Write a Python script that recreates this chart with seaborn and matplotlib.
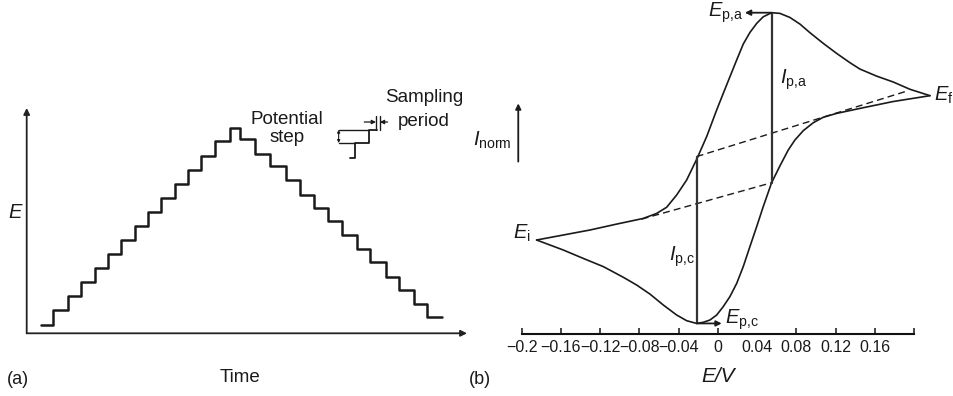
import numpy as np
import pandas as pd
import matplotlib
matplotlib.use("Agg")
import matplotlib.pyplot as plt
import seaborn as sns

# ---------------- data ----------------
# Panel (a): staircase potential waveform (time in step units, E in step units)
step_time = [1.1, 2.0, 3.1, 4.1, 5.1, 6.1, 7.1, 8.1, 9.1, 10.1, 11.1, 12.1, 13.1, 14.1, 15.25,
             16.0, 17.1, 18.25, 19.4, 20.5, 21.5, 22.6, 23.6, 24.75, 25.75, 26.9, 27.9, 29.0, 30.0, 31.1]
step_E = [0.6, 1.67, 2.67, 3.64, 4.64, 5.67, 6.67, 7.67, 8.64, 9.64, 10.67, 11.67, 12.62, 13.69, 14.64,
          13.86, 12.81, 11.9, 10.95, 9.88, 8.93, 7.98, 6.98, 6.0, 5.05, 4.05, 3.1, 2.1, 1.14, 1.14]

# Inset schematic (one potential step with sampling period)
inset_step_t = [24.25, 24.63, 24.63, 25.63, 25.63, 26.26]
inset_step_E = [12.5, 12.5, 13.57, 13.57, 14.52, 14.52]

# Panel (b): cyclic voltammogram, forward (anodic) and reverse branches
fwd_E = [-0.1848, -0.1576, -0.1304, -0.1032, -0.0760, -0.0624, -0.0522, -0.0420, -0.0318, -0.0216,
         -0.0114, -0.0012, 0.0055, 0.0123, 0.0192, 0.0259, 0.0327, 0.0396, 0.0463, 0.0548,
         0.0633, 0.0735, 0.0837, 0.0939, 0.1075, 0.1211, 0.1347, 0.1449, 0.1619, 0.1789,
         0.1959, 0.2163]
fwd_I = [0.000, 0.022, 0.044, 0.070, 0.095, 0.117, 0.144, 0.198, 0.264, 0.355,
         0.455, 0.572, 0.645, 0.718, 0.792, 0.862, 0.913, 0.953, 0.982, 1.000,
         0.997, 0.979, 0.950, 0.912, 0.865, 0.821, 0.780, 0.752, 0.721, 0.695,
         0.663, 0.635]
rev_E = [0.2163, 0.1785, 0.1449, 0.1211, 0.1075, 0.0973, 0.0871, 0.0786, 0.0718, 0.0633,
         0.0548, 0.0463, 0.0396, 0.0327, 0.0259, 0.0192, 0.0123, 0.0055, -0.0012, -0.0081,
         -0.0149, -0.0216, -0.0318, -0.0420, -0.0556, -0.0692, -0.0828, -0.0964, -0.1168,
         -0.1372, -0.1576, -0.1712, -0.1848]
rev_I = [0.635, 0.609, 0.579, 0.557, 0.540, 0.516, 0.481, 0.440, 0.396, 0.326,
         0.252, 0.147, 0.059, -0.029, -0.117, -0.191, -0.249, -0.293, -0.330, -0.352,
         -0.362, -0.367, -0.355, -0.330, -0.286, -0.238, -0.198, -0.164, -0.117,
         -0.081, -0.044, -0.022, 0.000]

# baselines (dashed) and peak currents
base_c_E = [-0.0216, 0.1941]
base_c_I = [0.367, 0.657]
base_a_E = [-0.0777, 0.0548]
base_a_I = [0.092, 0.252]
Epa, Ipa, Ipa_base = 0.0548, 1.000, 0.252
Epc, Ipc, Ipc_base = -0.0216, -0.367, 0.367

xticks = [-0.2, -0.16, -0.12, -0.08, -0.04, 0.0, 0.04, 0.08, 0.12, 0.16, 0.2]
xtick_labels = ["\u22120.2", "\u22120.16", "\u22120.12", "\u22120.08", "\u22120.04", "0",
                "0.04", "0.08", "0.12", "0.16", ""]

# ---------------- style ----------------
sns.set_style("ticks")
plt.rcParams["font.family"] = ["Liberation Sans", "DejaVu Sans"]
plt.rcParams["mathtext.fontset"] = "custom"
plt.rcParams["mathtext.rm"] = "Liberation Sans"
plt.rcParams["mathtext.it"] = "Liberation Sans:italic"
plt.rcParams["mathtext.bf"] = "Liberation Sans:bold"

W, H = 954, 396
fig = plt.figure(figsize=(W / 100, H / 100), dpi=100)

def px(x0, y0, x1, y1):
    return [x0 / W, 1 - y1 / H, (x1 - x0) / W, (y1 - y0) / H]

ink = "#1a1a1a"

# ---------------- panel (a) ----------------
ax_a = fig.add_axes(px(26.7, 108, 467, 333.3))
df_a = pd.DataFrame({"t": step_time, "E": step_E})
sns.lineplot(data=df_a, x="t", y="E", ax=ax_a, drawstyle="steps-post", color=ink,
             lw=1.8, sort=False, estimator=None)
ax_a.set_xlim(0, 33)
ax_a.set_ylim(0, 16.07)
for s in ax_a.spines.values():
    s.set_visible(False)
ax_a.set_xticks([]); ax_a.set_yticks([])
ax_a.set_xlabel(""); ax_a.set_ylabel("")
arrow_kw = dict(arrowstyle="-|>", color="#222222", lw=1.3, mutation_scale=9,
                shrinkA=0, shrinkB=0)
ax_a.annotate("", xy=(0, 1), xytext=(0, 0), xycoords="axes fraction", arrowprops=arrow_kw)
ax_a.annotate("", xy=(1, 0), xytext=(0, 0), xycoords="axes fraction", arrowprops=arrow_kw)

# inset schematic
sns.lineplot(x=inset_step_t, y=inset_step_E, ax=ax_a, color=ink, lw=1.3, sort=False,
             estimator=None)
ax_a.plot([23.38, 25.63], [14.52, 14.52], color=ink, lw=1.0, clip_on=False)
ax_a.plot([23.38, 24.63], [13.57, 13.57], color=ink, lw=1.0, clip_on=False)
ax_a.annotate("", xy=(23.38, 14.52), xytext=(23.38, 13.57),
              arrowprops=dict(arrowstyle="<|-|>", color=ink, lw=0.8, mutation_scale=4,
                              shrinkA=0, shrinkB=0))
ax_a.plot([26.2, 26.2], [14.52, 15.52], color=ink, lw=1.0, clip_on=False)
ax_a.plot([26.45, 26.45], [14.52, 15.52], color=ink, lw=1.0, clip_on=False)
ax_a.annotate("", xy=(26.18, 15.07), xytext=(25.3, 15.07),
              arrowprops=dict(arrowstyle="-|>", color=ink, lw=0.9, mutation_scale=6,
                              shrinkA=0, shrinkB=0))
ax_a.annotate("", xy=(26.47, 15.07), xytext=(27.05, 15.07),
              arrowprops=dict(arrowstyle="-|>", color=ink, lw=0.9, mutation_scale=6,
                              shrinkA=0, shrinkB=0))
ax_a.text(19.5, 14.6, "Potential\nstep", ha="center", va="center", fontsize=13.5,
          linespacing=1.05, color=ink)
ax_a.text(29.8, 16.8, "Sampling", ha="center", va="center", fontsize=13.5, color=ink)
ax_a.text(27.85, 15.1, "period", ha="left", va="center", fontsize=13.5, color=ink)

fig.text(15 / W, 1 - 212 / H, "E", ha="center", va="center", fontsize=14.5,
         style="italic", color=ink)
fig.text(240 / W, 1 - 378 / H, "Time", ha="center", va="center", fontsize=13.5, color=ink)
fig.text(18 / W, 1 - 380 / H, "(a)", ha="center", va="center", fontsize=13, color=ink)
fig.text(480 / W, 1 - 380 / H, "(b)", ha="center", va="center", fontsize=13, color=ink)

# ---------------- panel (b) ----------------
ax_b = fig.add_axes(px(521.7, 12.7, 914, 334))
sns.lineplot(x=fwd_E, y=fwd_I, ax=ax_b, color=ink, lw=1.2, sort=False, estimator=None)
sns.lineplot(x=rev_E, y=rev_I, ax=ax_b, color=ink, lw=1.2, sort=False, estimator=None)
sns.lineplot(x=base_c_E, y=base_c_I, ax=ax_b, color=ink, lw=1.0, sort=False,
             estimator=None, linestyle=(0, (5, 3)))
sns.lineplot(x=base_a_E, y=base_a_I, ax=ax_b, color=ink, lw=1.0, sort=False,
             estimator=None, linestyle=(0, (5, 3)))
sns.lineplot(x=[Epa, Epa], y=[Ipa_base, Ipa], ax=ax_b, color="#333333", lw=1.6,
             sort=False, estimator=None)
sns.lineplot(x=[Epc, Epc], y=[Ipc, Ipc_base], ax=ax_b, color="#333333", lw=1.6,
             sort=False, estimator=None)
for ln in ax_b.lines:
    ln.set_clip_on(False)

ax_b.set_xlim(-0.2, 0.2)
ax_b.set_ylim(-0.4135, 1.0)
for k in ["left", "right", "top"]:
    ax_b.spines[k].set_visible(False)
ax_b.spines["bottom"].set_linewidth(1.5)
ax_b.spines["bottom"].set_color("#111111")
ax_b.set_yticks([])
ax_b.set_xticks(xticks)
ax_b.set_xticklabels(xtick_labels, fontsize=11.5, color=ink)
ax_b.tick_params(axis="x", direction="in", length=4, width=1.2, pad=4, bottom=True)
ax_b.xaxis.get_major_ticks()[6].tick1line.set_visible(False)
ax_b.set_xlabel("E/V", fontsize=15, style="italic", labelpad=9, color=ink)
ax_b.set_ylabel("")

small_arrow = dict(arrowstyle="-|>", color=ink, lw=1.3, mutation_scale=8, shrinkA=0, shrinkB=0)
ax_b.annotate("", xy=(0.0276, 1.0), xytext=(Epa, 1.0), arrowprops=small_arrow,
              annotation_clip=False)
ax_b.annotate("", xy=(0.0039, Ipc), xytext=(Epc, Ipc), arrowprops=small_arrow,
              annotation_clip=False)
ax_b.annotate("", xy=(-0.2035, 0.601), xytext=(-0.2035, 0.345), arrowprops=small_arrow,
              annotation_clip=False)

fs = 14.5
ax_b.text(0.026, 1.0, r"$E_{\rm p{,}a}$", ha="right", va="center", fontsize=fs, color=ink)
ax_b.text(0.0072, -0.352, r"$E_{\rm p{,}c}$", ha="left", va="center", fontsize=fs, color=ink)
ax_b.text(0.0633, 0.704, r"$I_{\rm p{,}a}$", ha="left", va="center", fontsize=fs, color=ink)
ax_b.text(-0.0495, -0.073, r"$I_{\rm p{,}c}$", ha="left", va="center", fontsize=fs, color=ink)
ax_b.text(-0.2086, 0.029, r"$E_{\rm i}$", ha="left", va="center", fontsize=fs, color=ink)
ax_b.text(0.2205, 0.638, r"$E_{\rm f}$", ha="left", va="center", fontsize=fs, color=ink)
ax_b.text(-0.2102, 0.44, r"$I_{\rm norm}$", ha="right", va="center", fontsize=fs, color=ink)

fig.savefig("out.png", dpi=100)
